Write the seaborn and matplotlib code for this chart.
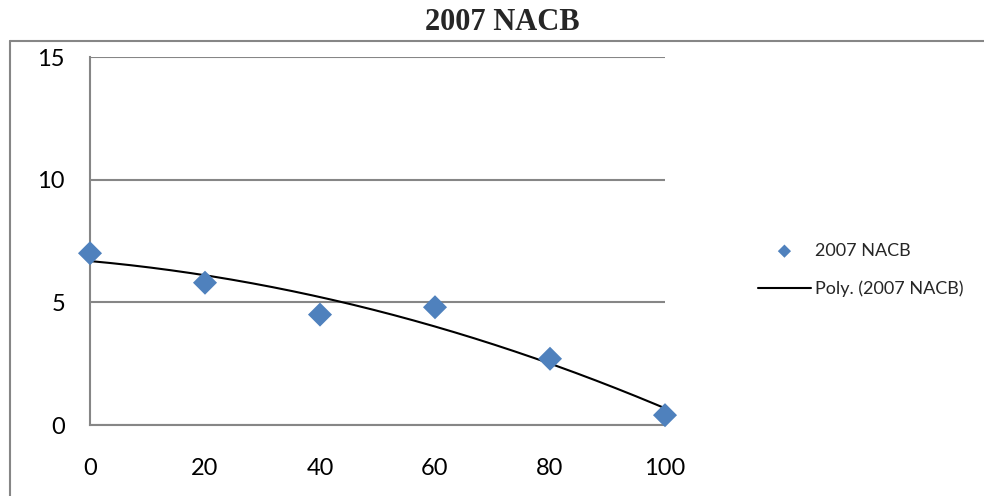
import numpy as np
import pandas as pd
import seaborn as sns
import matplotlib as mpl
import matplotlib.pyplot as plt
from matplotlib.lines import Line2D

# values
depth = [0, 20, 40, 60, 80, 100]
nacb = [7.0, 5.8, 4.5, 4.8, 2.7, 0.4]
series_name = "2007 NACB"
trend_name = "Poly. (2007 NACB)"

sns.set_style("white")
plt.rcParams['font.family'] = ['Lato', 'DejaVu Sans']

df = pd.DataFrame({'x': depth, 'y': nacb})

# 2nd order polynomial trendline, as in Excel
coef = np.polyfit(df.x, df.y, 2)
xs = np.linspace(0, 100, 200)
trend = pd.DataFrame({'x': xs, 'y': np.polyval(coef, xs)})

grey = '#868686'
fig = plt.figure(figsize=(9.84, 4.96), dpi=100)
fig.patch.set_facecolor('white')
ax = fig.add_axes([90 / 984, 1 - 425 / 496, 575 / 984, 368 / 496])

sns.lineplot(data=trend, x='x', y='y', ax=ax, color='black', linewidth=1.5,
             label=trend_name, zorder=3)
sns.scatterplot(data=df, x='x', y='y', ax=ax, marker='D', s=150,
                color='#4F81BD', edgecolor='none', label=series_name, zorder=4,
                clip_on=False)

ax.set_xlim(0, 100)
ax.set_ylim(0, 15)
ax.set_xticks(np.arange(0, 101, 20))
ax.set_yticks(np.arange(0, 16, 5))
ax.set_xlabel("")
ax.set_ylabel("")
ax.grid(True, axis='y', color=grey, linewidth=1.5)
ax.set_axisbelow(True)
for s in ['top', 'right']:
    ax.spines[s].set_visible(False)
for s in ['left', 'bottom']:
    ax.spines[s].set_color(grey)
    ax.spines[s].set_linewidth(1.5)
ax.tick_params(axis='both', direction='out', length=5, width=1.5, color=grey,
               labelsize=17, labelcolor='black')
ax.tick_params(axis='y', pad=13)
ax.tick_params(axis='x', pad=19)

# legend to the right of the plot area
handles, labels = ax.get_legend_handles_labels()
order = [labels.index(series_name), labels.index(trend_name)]
ax.legend([handles[i] for i in order], [labels[i] for i in order],
          loc='center left', bbox_to_anchor=(742 / 984, 1 - 270 / 496),
          bbox_transform=fig.transFigure, frameon=False, fontsize=13,
          handlelength=2.9, handletextpad=0.25, labelspacing=1.2,
          markerscale=0.55)

fig.text(502 / 984, 1 - 23 / 496, "2007 NACB", ha='center', va='center',
         fontsize=22, fontweight='bold', family='Liberation Serif')

# outer chart frame (runs off the right and bottom edges)
fig.add_artist(Line2D([10 / 984, 1.02], [1 - 41 / 496] * 2,
                      transform=fig.transFigure, color=grey, linewidth=1.5))
fig.add_artist(Line2D([10 / 984] * 2, [-0.02, 1 - 41 / 496],
                      transform=fig.transFigure, color=grey, linewidth=1.5))

plt.savefig("out.png", dpi=100)
